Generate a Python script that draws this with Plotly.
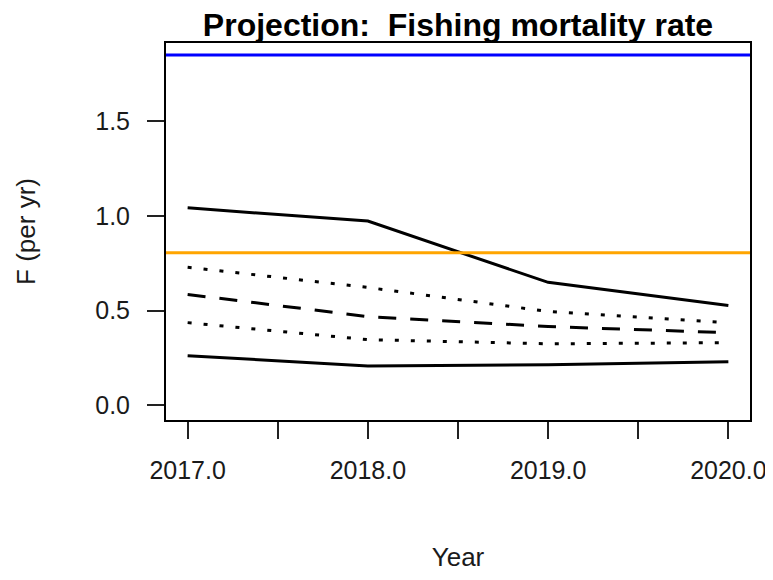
import plotly.graph_objects as go

years = [2017, 2018, 2019, 2020]
upper_solid = [1.043, 0.973, 0.649, 0.527]
upper_dotted = [0.729, 0.622, 0.495, 0.436]
median_dashed = [0.585, 0.468, 0.415, 0.383]
lower_dotted = [0.436, 0.346, 0.324, 0.330]
lower_solid = [0.261, 0.207, 0.213, 0.229]

ref_blue = 1.852
ref_orange = 0.806

x_tickvals = [2017, 2017.5, 2018, 2018.5, 2019, 2019.5, 2020]
x_ticktext = ["2017.0", "", "2018.0", "", "2019.0", "", "2020.0"]
y_tickvals = [0.0, 0.5, 1.0, 1.5]

FONT = "Liberation Sans, Arial, sans-serif"

# page body has an 8px margin, so the figure starts 8px in; size it to avoid scrolling
W, H = 765, 564

fig = go.Figure()
series = [
    (upper_solid, "solid", "upper"),
    (upper_dotted, "4px,12px", "upper quartile"),
    (median_dashed, "18px,14px", "median"),
    (lower_dotted, "4px,12px", "lower quartile"),
    (lower_solid, "solid", "lower"),
]
for vals, dash, name in series:
    fig.add_trace(go.Scatter(x=years, y=vals, mode="lines", name=name,
                             line=dict(color="black", width=3, dash=dash)))

fig.add_hline(y=ref_blue, line=dict(color="#0000FF", width=3))
fig.add_hline(y=ref_orange, line=dict(color="#FFA500", width=3))

fig.update_layout(
    width=W, height=H,
    paper_bgcolor="white", plot_bgcolor="white",
    showlegend=False,
    margin=dict(l=158, r=23, t=35, b=152, autoexpand=False),
    font=dict(family=FONT, color="#1a1a1a"),
    title=dict(text="<b>Projection:  Fishing mortality rate</b>",
               x=0.5, xref="paper", y=1 - 17 / H, yref="container",
               yanchor="middle", xanchor="center",
               font=dict(size=32, color="black", family=FONT)),
)
fig.update_xaxes(
    range=[2016.88, 2020.12],
    tickvals=x_tickvals, ticktext=x_ticktext,
    showgrid=False, zeroline=False, automargin=False,
    showline=True, linecolor="black", linewidth=2, mirror=True,
    ticks="outside", ticklen=17, tickwidth=2, tickcolor="#222",
    tickfont=dict(size=25), ticklabelstandoff=10,
    title=dict(text="Year", font=dict(size=26), standoff=69),
)
fig.update_yaxes(
    range=[-0.079, 1.915],
    tickvals=y_tickvals, tickformat=".1f",
    showgrid=False, zeroline=False, automargin=False,
    showline=True, linecolor="black", linewidth=2, mirror=True,
    ticks="outside", ticklen=17, tickwidth=2, tickcolor="#222",
    tickfont=dict(size=25), ticklabelstandoff=12,
    title=dict(text="F (per yr)", font=dict(size=26), standoff=52),
)

fig.write_html("out.html")
